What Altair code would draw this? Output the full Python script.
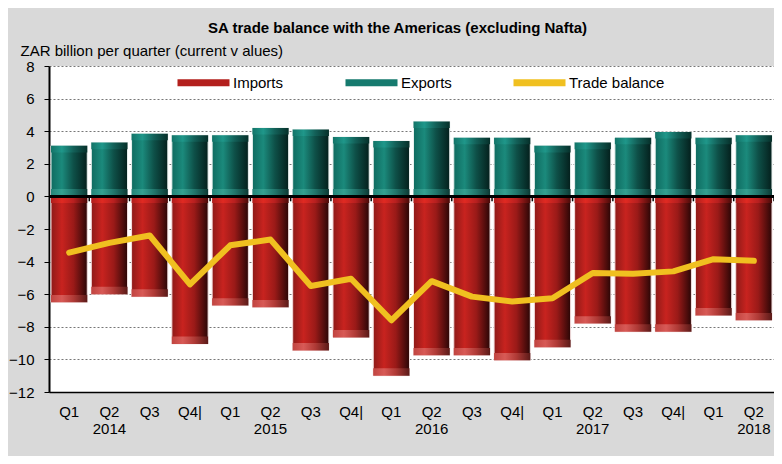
import json
import altair as alt
import pandas as pd

quarters = ["Q1", "Q2", "Q3", "Q4|", "Q1", "Q2", "Q3", "Q4|", "Q1", "Q2", "Q3", "Q4|",
            "Q1", "Q2", "Q3", "Q4|", "Q1", "Q2"]
years = ["", "2014", "", "", "", "2015", "", "", "", "2016", "", "", "", "2017", "", "", "", "2018"]
exports = [3.1, 3.3, 3.85, 3.75, 3.75, 4.2, 4.1, 3.65, 3.4, 4.6, 3.6, 3.6, 3.1, 3.3, 3.6, 3.95, 3.6, 3.75]
imports = [-6.5, -6.0, -6.15, -9.05, -6.7, -6.8, -9.45, -8.65, -11.0, -9.75, -9.75, -10.05,
           -9.25, -7.8, -8.3, -8.3, -7.3, -7.6]
balance = [-3.45, -2.85, -2.4, -5.4, -3.0, -2.65, -5.5, -5.05, -7.6, -5.2, -6.15, -6.45,
           -6.25, -4.7, -4.75, -4.6, -3.85, -3.95]
y_ticks = [-12, -10, -8, -6, -4, -2, 0, 2, 4, 6, 8]
series_names = ["Imports", "Exports", "Trade balance"]
series_colors = ["#b3201d", "#167a6e", "#f0c020"]

idx = list(range(len(quarters)))
df = pd.DataFrame({"idx": idx, "exports": exports, "imports": imports,
                   "balance": balance, "series": "Trade balance"})

label_arr = json.dumps([[q, y] for q, y in zip(quarters, years)])
FONT = "Liberation Sans"


def hgrad(cols):
    offs = [0, 0.3, 0.62, 1]
    return alt.LinearGradient(
        gradient="linear", x1=0, x2=1, y1=0, y2=0,
        stops=[alt.GradientStop(color=c, offset=o) for c, o in zip(cols, offs)])


red_grad = hgrad(["#8e1a18", "#c8231f", "#9a1a18", "#2a0606"])
red_cap = hgrad(["#c04440", "#d85a56", "#b03a36", "#5a1a18"])
red_top = hgrad(["#b01e1c", "#e02a22", "#b82020", "#4a0a08"])
teal_grad = hgrad(["#0f6b60", "#1b8a7c", "#0e5048", "#041f1c"])
teal_cap = hgrad(["#258478", "#34a090", "#21766c", "#0c3a34"])
teal_top = hgrad(["#137468", "#1f978a", "#136058", "#06302a"])

xscale = alt.Scale(paddingInner=0.1, paddingOuter=0.05)
x_axis = alt.Axis(labelExpr=f"{label_arr}[datum.value]", labelAngle=0,
                  ticks=False, labelPadding=12, labelLineHeight=17,
                  labelFontSize=15, labelFont=FONT, labelColor="#000",
                  domainColor="#000", domainWidth=1.5)
x_enc = alt.X("idx:O", scale=xscale, title=None, axis=x_axis)
yscale = alt.Scale(domain=[-12, 8], nice=False, zero=False)
y_axis = alt.Axis(values=y_ticks, labelOverlap=False,
                  grid=True, gridDash=[2, 2],
                  gridColor="#777", tickColor="#000", tickSize=5, labelPadding=10,
                  labelFontSize=15, labelFont=FONT, labelColor="#000",
                  domainColor="#000", domainWidth=2,
                  title="ZAR billion per quarter (current v alues)", titleAngle=0,
                  titleX=-29, titleY=-11, titleAlign="left", titleBaseline="alphabetic",
                  titleFont=FONT, titleFontSize=15, titleFontWeight="normal", titleColor="#000")


def Y(field):
    return alt.Y(field, scale=yscale, axis=y_axis)


base = alt.Chart(df).transform_calculate(
    exp_cap="datum.exports > 0 ? 0.45 : 0",
    exp_top="datum.exports - 0.4",
    imp_cap="datum.imports + 0.45",
    zero="0",
    imp_top="-0.4",
    tick_end="-0.3",
)

exp_bars = base.mark_bar(color=teal_grad, stroke="#e8f0ee", strokeWidth=1).encode(
    x=x_enc, y=Y("exports:Q"))
exp_top = base.mark_bar(color=teal_top).encode(
    x=x_enc, y=Y("exports:Q"), y2="exp_top:Q")
exp_cap = base.mark_bar(color=teal_cap).encode(
    x=x_enc, y=Y("exp_cap:Q"), y2="zero:Q")
imp_bars = base.mark_bar(color=red_grad, stroke="#f3dede", strokeWidth=1).encode(
    x=x_enc, y=Y("imports:Q"))
imp_top = base.mark_bar(color=red_top).encode(
    x=x_enc, y=Y("zero:Q"), y2="imp_top:Q")
imp_cap = base.mark_bar(color=red_cap).encode(
    x=x_enc, y=Y("imports:Q"), y2="imp_cap:Q")

zero_rule = base.mark_rule(color="#000", strokeWidth=1.5).encode(y=Y("zero:Q"))
ticks = base.mark_rule(color="#000", strokeWidth=1.5, xOffset=2).encode(
    x=alt.X("idx:O", bandPosition=1, scale=xscale, axis=x_axis, title=None),
    y=Y("zero:Q"), y2="tick_end:Q")

line = base.mark_line(strokeWidth=6, strokeJoin="round", strokeCap="round").encode(
    x=x_enc, y=Y("balance:Q"),
    color=alt.Color("series:N",
                    scale=alt.Scale(domain=series_names, range=series_colors),
                    legend=alt.Legend(orient="none", direction="horizontal", title=None,
                                      legendX=125, legendY=-13, symbolType="stroke",
                                      symbolSize=2704, symbolStrokeWidth=7,
                                      columnPadding=47, labelFont=FONT, labelFontSize=15,
                                      labelColor="#000", labelOffset=0, padding=0)))

chart = alt.layer(exp_bars, exp_top, exp_cap, imp_bars, imp_top, imp_cap,
                  zero_rule, ticks, line).properties(
    width=725, height=326,
    title=alt.Title("SA trade balance with the Americas (excluding Nafta)",
                    font=FONT, fontSize=15, fontWeight="bold", color="#000",
                    anchor="middle", frame="group", dx=-14, offset=7),
    background="#d9d9d9",
    padding={"left": 41, "top": 58, "right": 0, "bottom": 64},
    autosize=alt.AutoSizeParams(type="none"),
).configure_view(fill="#ffffff", stroke=None)

chart.save("out.html", embed_options={"renderer": "svg", "actions": False})
